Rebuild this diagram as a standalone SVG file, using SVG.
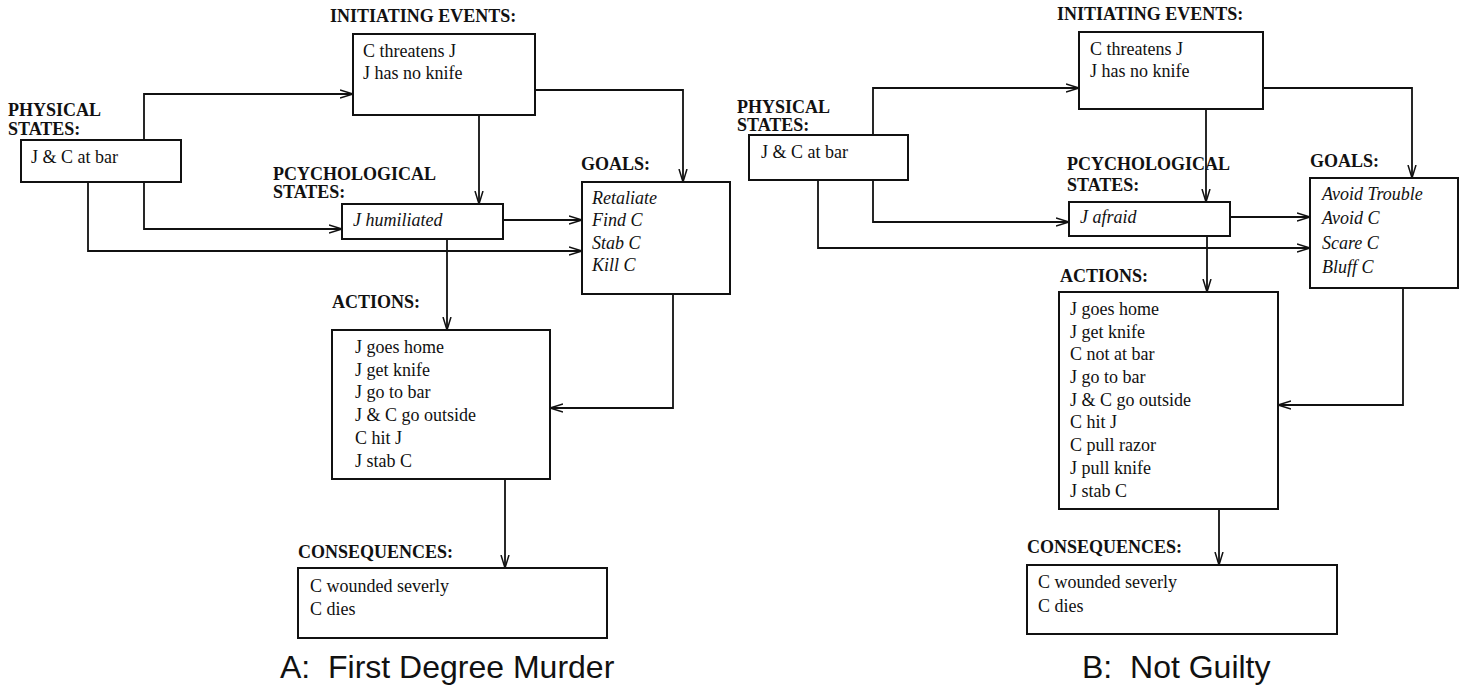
<svg xmlns="http://www.w3.org/2000/svg" width="1466" height="688" viewBox="0 0 1466 688">
<style>
.box{fill:#fff;stroke:#111;stroke-width:2}
.t{font-family:"Liberation Serif",serif;font-size:18px;fill:#111}
.i{font-family:"Liberation Serif",serif;font-size:18px;font-style:italic;fill:#111}
.lb{font-family:"Liberation Serif",serif;font-size:18px;font-weight:bold;fill:#111}
.ti{font-family:"Liberation Sans",sans-serif;font-size:32px;fill:#111;white-space:pre}
.c{fill:none;stroke:#111;stroke-width:1.8}
</style>
<defs>
<marker id="a" markerUnits="userSpaceOnUse" markerWidth="16" markerHeight="12" refX="13" refY="5" orient="auto">
<path d="M0,1 L13,5 L0,9" fill="none" stroke="#111" stroke-width="1.5"/>
</marker>
</defs>
<rect width="1466" height="688" fill="#fff"/>

<g id="connectors">
<path class="c" marker-end="url(#a)" d="M144,140 V94 H353"/>
<path class="c" marker-end="url(#a)" d="M144,182 V229 H342"/>
<path class="c" marker-end="url(#a)" d="M88,182 V251 H582"/>
<path class="c" marker-end="url(#a)" d="M479,115 V204"/>
<path class="c" marker-end="url(#a)" d="M535,90 H683 V182"/>
<path class="c" marker-end="url(#a)" d="M503,220 H582"/>
<path class="c" marker-end="url(#a)" d="M447,239 V330"/>
<path class="c" marker-end="url(#a)" d="M673,294 V408 H550"/>
<path class="c" marker-end="url(#a)" d="M505,479 V568"/>

<path class="c" marker-end="url(#a)" d="M873,135 V88 H1079"/>
<path class="c" marker-end="url(#a)" d="M873,180 V222 H1069"/>
<path class="c" marker-end="url(#a)" d="M818,180 V248 H1310"/>
<path class="c" marker-end="url(#a)" d="M1206,109 V202"/>
<path class="c" marker-end="url(#a)" d="M1263,88 H1412 V178"/>
<path class="c" marker-end="url(#a)" d="M1230,217 H1310"/>
<path class="c" marker-end="url(#a)" d="M1207,236 V292"/>
<path class="c" marker-end="url(#a)" d="M1403,288 V405 H1278"/>
<path class="c" marker-end="url(#a)" d="M1219,509 V565"/>
</g>

<g id="a-initiating">
<text class="lb" x="330" y="22">INITIATING EVENTS:</text>
<rect class="box" x="353" y="34" width="182" height="81"/>
<text class="t" x="363" y="57">C threatens J</text>
<text class="t" x="363" y="79">J has no knife</text>
</g>
<g id="a-physical">
<text class="lb" x="8" y="116">PHYSICAL</text>
<text class="lb" x="8" y="135">STATES:</text>
<rect class="box" x="21" y="140" width="160" height="42"/>
<text class="t" x="31" y="163">J &amp; C at bar</text>
</g>
<g id="a-psych">
<text class="lb" x="273" y="180">PCYCHOLOGICAL</text>
<text class="lb" x="273" y="198">STATES:</text>
<rect class="box" x="342" y="204" width="161" height="35"/>
<text class="i" x="353" y="226">J humiliated</text>
</g>
<g id="a-goals">
<text class="lb" x="581" y="170">GOALS:</text>
<rect class="box" x="582" y="182" width="148" height="112"/>
<text class="i" x="592" y="204">Retaliate</text>
<text class="i" x="592" y="226">Find C</text>
<text class="i" x="592" y="249">Stab C</text>
<text class="i" x="592" y="271">Kill C</text>
</g>
<g id="a-actions">
<text class="lb" x="332" y="308">ACTIONS:</text>
<rect class="box" x="332" y="330" width="218" height="149"/>
<text class="t" x="355" y="353">J goes home</text>
<text class="t" x="355" y="376">J get knife</text>
<text class="t" x="355" y="398">J go to bar</text>
<text class="t" x="355" y="421">J &amp; C go outside</text>
<text class="t" x="355" y="444">C hit J</text>
<text class="t" x="355" y="467">J stab C</text>
</g>
<g id="a-consequences">
<text class="lb" x="298" y="558">CONSEQUENCES:</text>
<rect class="box" x="298" y="568" width="309" height="70"/>
<text class="t" x="310" y="592">C wounded severly</text>
<text class="t" x="310" y="615">C dies</text>
</g>
<text class="ti" x="280" y="678" xml:space="preserve">A:  First Degree Murder</text>

<g id="b-initiating">
<text class="lb" x="1057" y="20">INITIATING EVENTS:</text>
<rect class="box" x="1079" y="32" width="184" height="77"/>
<text class="t" x="1090" y="55">C threatens J</text>
<text class="t" x="1090" y="77">J has no knife</text>
</g>
<g id="b-physical">
<text class="lb" x="737" y="113">PHYSICAL</text>
<text class="lb" x="737" y="131">STATES:</text>
<rect class="box" x="749" y="135" width="159" height="45"/>
<text class="t" x="761" y="158">J &amp; C at bar</text>
</g>
<g id="b-psych">
<text class="lb" x="1067" y="170">PCYCHOLOGICAL</text>
<text class="lb" x="1067" y="191">STATES:</text>
<rect class="box" x="1069" y="202" width="161" height="34"/>
<text class="i" x="1080" y="223">J afraid</text>
</g>
<g id="b-goals">
<text class="lb" x="1310" y="167">GOALS:</text>
<rect class="box" x="1310" y="178" width="148" height="110"/>
<text class="i" x="1322" y="200">Avoid Trouble</text>
<text class="i" x="1322" y="224">Avoid C</text>
<text class="i" x="1322" y="249">Scare C</text>
<text class="i" x="1322" y="273">Bluff C</text>
</g>
<g id="b-actions">
<text class="lb" x="1060" y="282">ACTIONS:</text>
<rect class="box" x="1059" y="292" width="219" height="217"/>
<text class="t" x="1070" y="315">J goes home</text>
<text class="t" x="1070" y="338">J get knife</text>
<text class="t" x="1070" y="360">C not at bar</text>
<text class="t" x="1070" y="383">J go to bar</text>
<text class="t" x="1070" y="406">J &amp; C go outside</text>
<text class="t" x="1070" y="428">C hit J</text>
<text class="t" x="1070" y="451">C pull razor</text>
<text class="t" x="1070" y="474">J pull knife</text>
<text class="t" x="1070" y="497">J stab C</text>
</g>
<g id="b-consequences">
<text class="lb" x="1027" y="553">CONSEQUENCES:</text>
<rect class="box" x="1027" y="565" width="310" height="69"/>
<text class="t" x="1038" y="588">C wounded severly</text>
<text class="t" x="1038" y="612">C dies</text>
</g>
<text class="ti" x="1082" y="678" xml:space="preserve">B:  Not Guilty</text>
</svg>
